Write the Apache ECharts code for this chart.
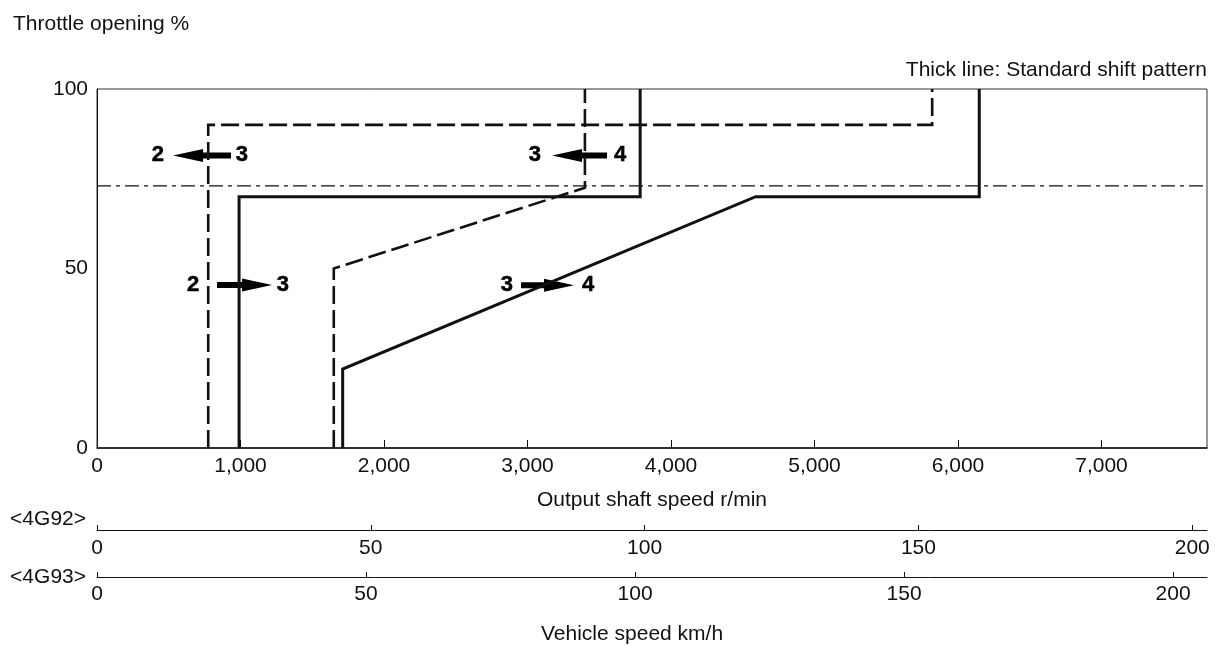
<!DOCTYPE html>
<html>
<head>
<meta charset="utf-8">
<script src="https://cdn.jsdelivr.net/npm/echarts@6/dist/echarts.min.js"></script>
<style>html,body{margin:0;padding:0;background:#fff}#c{width:1215px;height:646px}</style>
</head>
<body>
<div id="c"></div>
<script>
// ---- data ----
const xTickInterval = 1000;              // output shaft speed r/min
const xMax = 7735;
const yTicks = [0, 50, 100];             // throttle opening %
const up23 = [[990, 0], [990, 70], [3785, 70], [3785, 100]];              // thick solid 2->3
const down32 = [[775, 0], [775, 90], [5820, 90], [5820, 100]];            // dashed 3->2
const up34 = [[1712, 0], [1712, 22], [4590, 70], [6148, 70], [6148, 100]]; // thick solid 3->4
const down43 = [[1650, 0], [1650, 50], [3400, 72.5], [3400, 100]];        // dashed 4->3
const refLine = [[0, 73], [7735, 73]];                                    // dash-dot line
const arrowTail = [934, 3554, 836, 2955];
const arrowTip = [530, 3171, 1220, 3324];
const arrowY = [81.5, 81.5, 45.4, 45.3];
const gearLabelX = [425, 1010, 3052, 3645, 669, 1296, 2857, 3422];
const gearLabelY = [81.5, 81.5, 81.5, 81.5, 45.4, 45.4, 45.3, 45.3];
const gearLabelText = ['2', '3', '3', '4', '2', '3', '3', '4'];
const speed4G92Max = 202.7;   // km/h at right end of axis
const speed4G93Max = 206.3;
const speedInterval = 50;

const FONT = "'Liberation Sans', Arial, Helvetica, sans-serif";
const FS = 21;
const INK = '#111';

const chart = echarts.init(document.getElementById('c'), null, {renderer: 'canvas'});

const arrowData = arrowTail.map((t, i) => [t, arrowTip[i], arrowY[i]]);
const labelData = gearLabelX.map((x, i) => [x, gearLabelY[i]]);

function lineSeries(data, dashed, width) {
  return {
    type: 'line', xAxisIndex: 0, yAxisIndex: 0, data: data,
    symbol: 'none', silent: true, animation: false,
    lineStyle: {color: INK, width: width, type: dashed, cap: 'butt', join: 'miter'}
  };
}

const option = {
  animation: false,
  backgroundColor: '#fff',
  textStyle: {fontFamily: FONT},
  title: [
    {text: 'Throttle opening %', left: 8, top: 9,
     textStyle: {fontFamily: FONT, fontSize: FS, fontWeight: 'normal', color: INK}},
    {text: 'Thick line: Standard shift pattern', right: 3, top: 55,
     textStyle: {fontFamily: FONT, fontSize: FS, fontWeight: 'normal', color: INK}},
    {text: 'Vehicle speed km/h', left: 536, top: 619,
     textStyle: {fontFamily: FONT, fontSize: FS, fontWeight: 'normal', color: INK}}
  ],
  grid: [
    {left: 97, top: 89, width: 1110, height: 359, show: true, borderColor: '#333', borderWidth: 1, backgroundColor: 'transparent'},
    {left: 97, top: 529, width: 1110, height: 1},
    {left: 97, top: 576, width: 1110, height: 1}
  ],
  xAxis: [
    {gridIndex: 0, type: 'value', min: 0, max: xMax, interval: xTickInterval,
     axisLine: {show: true, onZero: false, lineStyle: {color: INK, width: 1.5}},
     axisTick: {show: true, inside: true, length: 8, lineStyle: {color: INK, width: 1}},
     splitLine: {show: false},
     axisLabel: {margin: 8, fontFamily: FONT, fontSize: FS, color: INK, showMaxLabel: false,
       formatter: v => v.toLocaleString('en-US')},
     name: 'Output shaft speed r/min', nameLocation: 'middle', nameGap: 42,
     nameTextStyle: {fontFamily: FONT, fontSize: FS, color: INK}},
    {gridIndex: 1, type: 'value', min: 0, max: speed4G92Max, interval: speedInterval,
     axisLine: {show: true, onZero: false, lineStyle: {color: INK, width: 1}},
     axisTick: {show: true, inside: true, length: 5, lineStyle: {color: INK, width: 1}},
     splitLine: {show: false},
     axisLabel: {margin: 8, fontFamily: FONT, fontSize: FS, color: INK, showMaxLabel: false},
     name: '<4G92>', nameLocation: 'start', nameGap: 11,
     nameTextStyle: {fontFamily: FONT, fontSize: FS, color: INK, verticalAlign: 'bottom'}},
    {gridIndex: 2, type: 'value', min: 0, max: speed4G93Max, interval: speedInterval,
     axisLine: {show: true, onZero: false, lineStyle: {color: INK, width: 1}},
     axisTick: {show: true, inside: true, length: 5, lineStyle: {color: INK, width: 1}},
     splitLine: {show: false},
     axisLabel: {margin: 7, fontFamily: FONT, fontSize: FS, color: INK, showMaxLabel: false},
     name: '<4G93>', nameLocation: 'start', nameGap: 11,
     nameTextStyle: {fontFamily: FONT, fontSize: FS, color: INK, verticalAlign: 'middle'}}
  ],
  yAxis: [
    {gridIndex: 0, type: 'value', min: yTicks[0], max: yTicks[yTicks.length - 1], interval: 50,
     axisLine: {show: true, lineStyle: {color: INK, width: 1}},
     axisTick: {show: false}, splitLine: {show: false},
     axisLabel: {margin: 9, fontFamily: FONT, fontSize: FS, color: INK}},
    {gridIndex: 1, show: false, type: 'value', min: 0, max: 1},
    {gridIndex: 2, show: false, type: 'value', min: 0, max: 1}
  ],
  series: [
    lineSeries(refLine, [14, 5, 4, 5], 1.3),
    lineSeries(down32, [18, 6], 2.6),
    lineSeries(down43, [18, 6], 2.6),
    lineSeries(up23, 'solid', 3),
    lineSeries(up34, 'solid', 3),
    {
      type: 'custom', xAxisIndex: 0, yAxisIndex: 0, silent: true, animation: false,
      data: arrowData,
      renderItem: function (params, api) {
        const a = api.coord([api.value(0), api.value(2)]);
        const b = api.coord([api.value(1), api.value(2)]);
        const dir = b[0] > a[0] ? 1 : -1;
        const headLen = 30, headHalf = 6.5, shaftHalf = 3;
        const hx = b[0] - dir * headLen;
        const y = b[1];
        return {
          type: 'polygon', shape: {points: [
            [a[0], y - shaftHalf], [hx, y - shaftHalf], [hx, y - headHalf], [b[0], y],
            [hx, y + headHalf], [hx, y + shaftHalf], [a[0], y + shaftHalf]]},
          style: {fill: '#000'}
        };
      }
    },
    {
      type: 'custom', xAxisIndex: 0, yAxisIndex: 0, silent: true, animation: false,
      data: labelData,
      renderItem: function (params, api) {
        const p = api.coord([api.value(0), api.value(1)]);
        return {
          type: 'text',
          x: p[0], y: p[1],
          style: {text: gearLabelText[params.dataIndex], fill: '#000',
            font: "bold 22px 'Liberation Sans', Arial, sans-serif",
            align: 'center', verticalAlign: 'middle',
            stroke: '#000', lineWidth: 0.5}
        };
      }
    }
  ]
};
chart.setOption(option);
</script>
</body>
</html>
